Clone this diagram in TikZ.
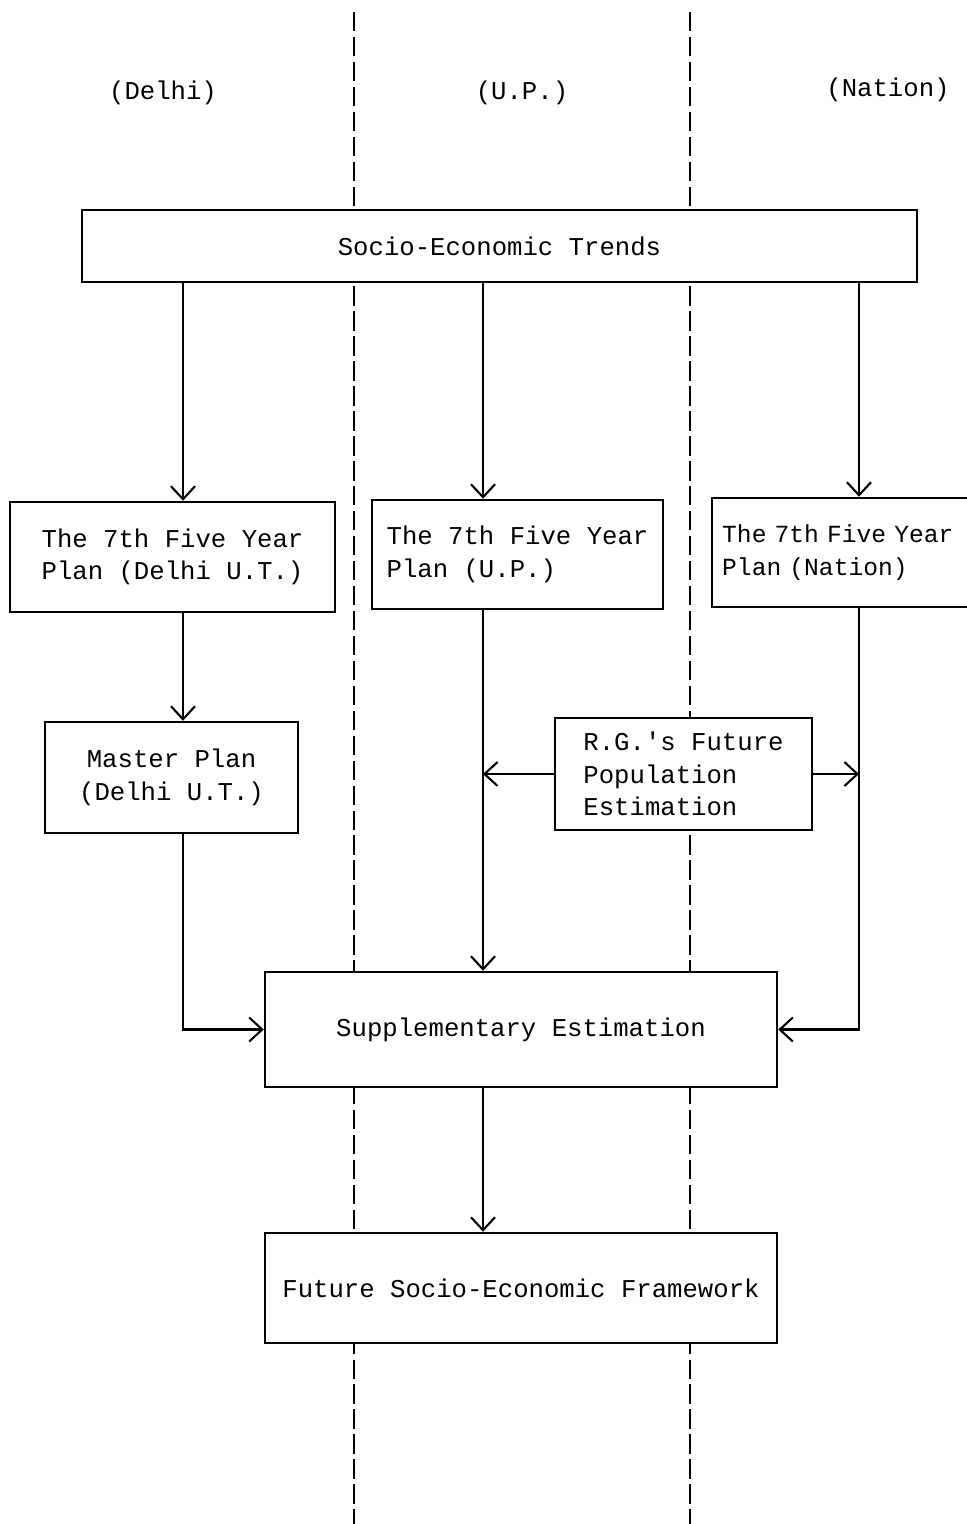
\documentclass[tikz,border=0pt]{standalone}
\usepackage{fontspec}
\setmainfont{Liberation Mono}
\usetikzlibrary{arrows.meta,positioning,calc}
\newcommand{\narrowsp}{\spaceskip=2.6pt\relax}

\begin{document}
\begin{tikzpicture}[
      font=\fontsize{7.3}{9.2}\selectfont,
      box/.style={draw=black,line width=0.7pt,fill=white,inner sep=3pt},
      tight/.style={font=\fontsize{7}{9.2}\selectfont\narrowsp},
      lbl/.style={inner sep=1pt},
      sep/.style={draw=black,line width=0.6pt,dash pattern=on 5.5pt off 1.6pt},
      fl/.style={-{Straight Barb[length=1.3mm,width=2.4mm]},line width=0.6pt}]
    \useasboundingbox (0,0) rectangle (9.67,-15.24);
    % region separators
    \draw[sep] (3.54,-0.12) -- (3.54,-15.24);
    \draw[sep] (6.90,-0.12) -- (6.90,-15.24);
    % column headings
    \node[lbl] (hDelhi) at (1.63,-0.93) {(Delhi)};
    \node[lbl] (hUP) at (5.22,-0.93) {(U.P.)};
    \node[lbl] (hNation) at (8.88,-0.90) {(Nation)};
    % arrow columns
    \coordinate (cD) at (1.83,0);
    \coordinate (cU) at (4.83,0);
    \coordinate (cN) at (8.59,0);
    % boxes
    \node[box,minimum width=8.35cm,minimum height=0.72cm] (trends) at (4.995,-2.46) {Socio-Economic Trends};
    \node[box,minimum width=3.25cm,minimum height=1.10cm,align=left] (delhi7) at (1.725,-5.57)
      {The 7th Five Year\\Plan (Delhi U.T.)};
    \node[box,minimum width=2.91cm,minimum height=1.09cm,align=left] (up7) at (5.175,-5.545)
      {The 7th Five Year\\Plan (U.P.)};
    \node[box,tight,anchor=west,minimum height=1.09cm,text width=2.7cm,inner xsep=0.1cm,align=left] (nation7) at (7.11,-5.525)
      {The 7th Five Year\\Plan (Nation)};
    \node[box,minimum width=2.53cm,minimum height=1.11cm,align=center] (master) at (1.715,-7.775)
      {Master Plan\\(Delhi U.T.)};
    \node[box,minimum width=2.57cm,minimum height=1.12cm,align=left] (rg) at (6.835,-7.74)
      {R.G.\textquotesingle s Future\\Population\\Estimation};
    \node[box,minimum width=5.12cm,minimum height=1.15cm] (supp) at (5.21,-10.295) {Supplementary Estimation};
    \node[box,minimum width=5.12cm,minimum height=1.10cm] (future) at (5.21,-12.88) {Future Socio-Economic Framework};
    % connectors
    \draw[fl] (trends.south -| cD) -- (delhi7.north -| cD);
    \draw[fl] (trends.south -| cU) -- (up7.north -| cU);
    \draw[fl] (trends.south -| cN) -- (nation7.north -| cN);
    \draw[fl] (delhi7.south -| cD) -- (master.north -| cD);
    \draw[fl] (master.south -| cD) |- (supp.west);
    \draw[fl] (up7.south -| cU) -- (supp.north -| cU);
    \draw[fl] (nation7.south -| cN) |- (supp.east);
    \draw[fl] (rg.west) -- (rg.west -| cU);
    \draw[fl] (rg.east) -- (rg.east -| cN);
    \draw[fl] (supp.south -| cU) -- (future.north -| cU);
  \end{tikzpicture}
\end{document}
